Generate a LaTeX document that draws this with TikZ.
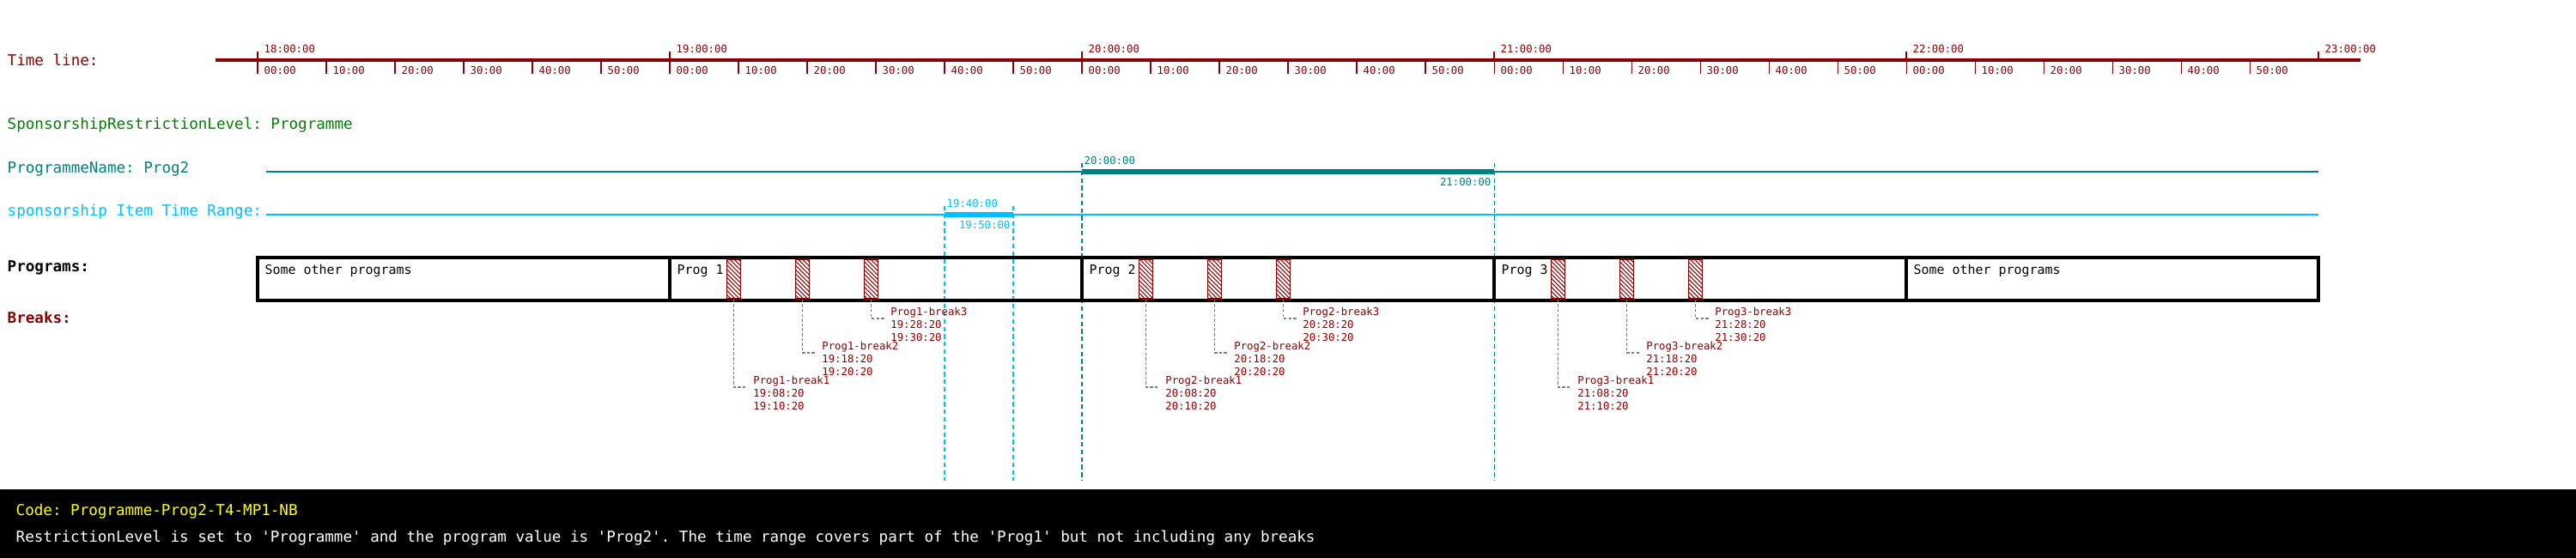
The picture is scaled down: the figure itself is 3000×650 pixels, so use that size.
\documentclass[tikz,border=0pt]{standalone}
\usepackage{fontspec}
\setmonofont{DejaVu Sans Mono}
\usetikzlibrary{patterns.meta}
\definecolor{tlred}{HTML}{8B0000}
\definecolor{grn}{HTML}{008000}
\definecolor{tea}{HTML}{008080}
\definecolor{sky}{HTML}{00BFFF}
\definecolor{ylw}{HTML}{FFFF00}
\definecolor{lead}{HTML}{708090}
\tikzset{%
    lab/.style={inner sep=0pt, anchor=base west, font=\ttfamily\fontsize{5}{6}\selectfont},
    labb/.style={lab, font=\ttfamily\bfseries\fontsize{5}{6}\selectfont},
    sml/.style={inner sep=0pt, anchor=base west, font=\ttfamily\fontsize{3.5}{4.27}\selectfont},
    mid/.style={inner sep=0pt, anchor=base west, font=\ttfamily\fontsize{4.25}{5}\selectfont},
    tl/.style={line width=1.1pt, tlred},
    tka/.style={line width=0.8pt, tlred},
    tkb/.style={line width=0.3pt, tlred},
    rng/.style={line width=0.45pt},
    bar/.style={line width=1.6pt},
    mrk/.style={line width=0.3pt, dash pattern=on 1.5pt off 1pt},
    box/.style={line width=1.2pt},
    brk/.style={draw=tlred, line width=0.4pt, minimum width=1.6mm, minimum height=4.6mm, inner sep=0pt, pattern={Lines[angle=-45, distance=1pt, line width=0.3pt]}, pattern color=tlred},
    lea/.style={line width=0.3pt, lead, dash pattern=on 1pt off 0.6pt},
}
\begin{document}
\begin{tikzpicture}[x=0.1mm, y=-0.1mm]
    \useasboundingbox (0,0) rectangle (3000,650);
    \node [lab, text=tlred] (tll) at (8,77) {Time line:};
    \draw [tl] (251,70) -- (2749,70);
    \foreach \h [count=\i from 0] in {18,...,23}{
        \draw [tka] (300+480*\i,60) -- (300+480*\i,70);
        \node [sml, text=tlred] (h\h) at (307+480*\i,62) {\h:00:00};
    }
    \foreach \i in {0,...,4}{
        \foreach \m in {0,...,5}{
            \draw [tkb] (300+480*\i+80*\m,70) -- (300+480*\i+80*\m,86);
            \node [sml, text=tlred] (m\i\m) at (307+480*\i+80*\m,87) {\m0:00};
        }
    }
    \node [lab, text=grn] (srl) at (8,151) {SponsorshipRestrictionLevel: Programme};
    \node [lab, text=tea] (pnl) at (8,202) {ProgrammeName: Prog2};
    \draw [rng, tea] (310,200) -- (2700,200);
    \draw [bar, tea] (1260,200) -- (1740,200);
    \draw [mrk, tea] (1260,190) -- (1260,560) (1740,190) -- (1740,560);
    \node [sml, text=tea] (pns) at (1262,192) {20:00:00};
    \node [sml, text=tea, anchor=base east] (pne) at (1737,217) {21:00:00};
    \node [lab, text=sky] (sil) at (8,252) {sponsorship Item Time Range:};
    \draw [rng, sky] (310,250) -- (2700,250);
    \draw [bar, sky] (1100,250) -- (1180,250);
    \draw [mrk, sky] (1100,240) -- (1100,560) (1180,240) -- (1180,560);
    \node [sml, text=sky] (sis) at (1102,242) {19:40:00};
    \node [sml, text=sky, anchor=base east] (sie) at (1177,267) {19:50:00};
    \node [labb] (prl) at (8,317) {Programs:};
    \draw [box] (300,300) rectangle (2700,350);
    \foreach \x in {780,1260,1740,2220} \draw [box] (\x,300) -- (\x,350);
    \foreach \x/\t [count=\i] in {300/Some other programs, 780/Prog 1, 1260/Prog 2, 1740/Prog 3, 2220/Some other programs}
        \node [mid] (pt\i) at (\x+8,320) {\t};
    \node [labb, text=tlred] (brl) at (8,377) {Breaks:};
    \foreach \pr in {1,2,3}{
        \pgfmathtruncatemacro{\hr}{18+\pr}
        \foreach \bk in {1,2,3}{
            \pgfmathtruncatemacro{\bm}{\bk-1}
            \node [brk] (b\pr\bk) at ({300+480*\pr+80*\bk-5.333},325) {};
            \node [sml, text=tlred, anchor=north west, align=left] (l\pr\bk) at ({300+480*\pr+80*\bk+16.667},{477-40*\bk}) {Prog\pr-break\bk\\\hr:\bm8:20\\\hr:\bk0:20};
            \draw [lea] (b\pr\bk.south) |- ([shift={(-7,14)}]l\pr\bk.north west);
        }
    }
    \fill [black] (0,570) rectangle (3000,650);
    \node [lab, text=ylw] (cod) at (18,601) {Code: Programme-Prog2-T4-MP1-NB};
    \node [lab, text=white] (dsc) at (18,632) {RestrictionLevel is set to 'Programme' and the program value is 'Prog2'. The time range covers part of the 'Prog1' but not including any breaks};
\end{tikzpicture}
\end{document}
